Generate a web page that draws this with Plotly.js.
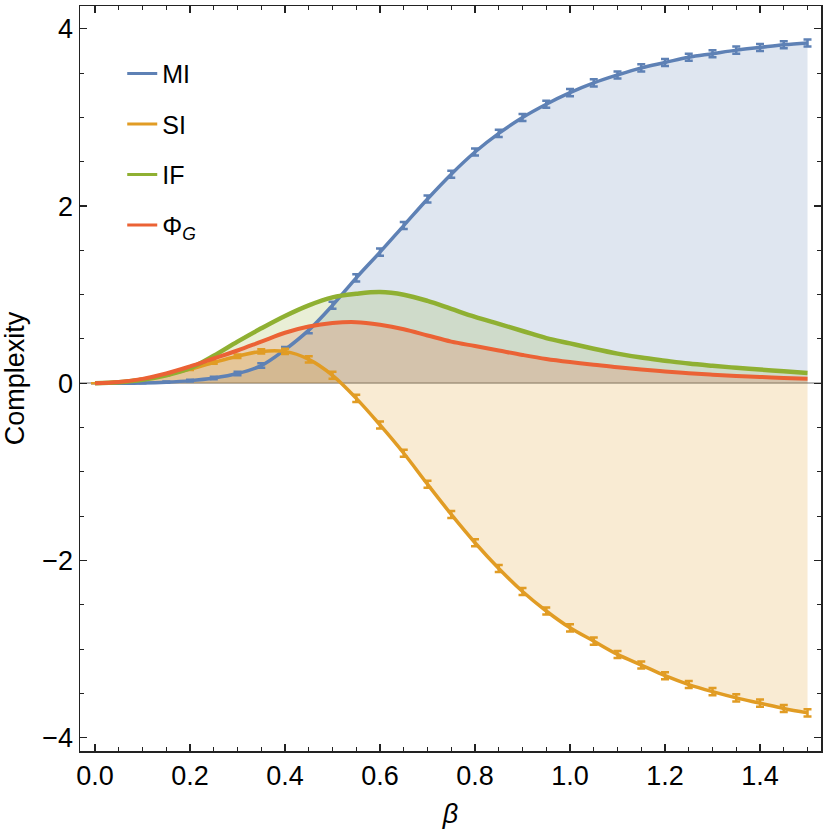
<!DOCTYPE html>
<html>
<head>
<meta charset="utf-8">
<script src="https://cdn.plot.ly/plotly-3.0.1.min.js"></script>
<style>html,body{margin:0;padding:0;background:#fff}</style>
</head>
<body>
<div id="chart" style="width:830px;height:833px"></div>
<script>
// beta grid and values
const beta = [0, 0.05, 0.1, 0.15, 0.2, 0.25, 0.3, 0.35, 0.4, 0.45, 0.5,
  0.55, 0.6, 0.65, 0.7, 0.75, 0.8, 0.85, 0.9, 0.95, 1.0,
  1.05, 1.1, 1.15, 1.2, 1.25, 1.3, 1.35, 1.4, 1.45, 1.5];

const mi = [0, 0.001, 0.004, 0.013, 0.03, 0.06, 0.11, 0.2, 0.38, 0.6, 0.88,
  1.19, 1.48, 1.78, 2.08, 2.36, 2.61, 2.82, 3.0, 3.15, 3.28,
  3.39, 3.48, 3.56, 3.62, 3.68, 3.72, 3.76, 3.79, 3.82, 3.84];
const miErr = [0, 0.002, 0.004, 0.006, 0.01, 0.015, 0.02, 0.025, 0.03, 0.035, 0.04,
  0.04, 0.04, 0.04, 0.04, 0.04, 0.04, 0.04, 0.04, 0.04, 0.04,
  0.04, 0.04, 0.04, 0.04, 0.04, 0.04, 0.04, 0.04, 0.04, 0.04];

const si = [0, 0.012, 0.045, 0.095, 0.16, 0.235, 0.305, 0.36, 0.36, 0.27, 0.09,
  -0.17, -0.47, -0.79, -1.14, -1.48, -1.8, -2.09, -2.35, -2.57, -2.76,
  -2.91, -3.06, -3.18, -3.3, -3.4, -3.48, -3.55, -3.61, -3.67, -3.72];
const siErr = [0, 0.002, 0.004, 0.006, 0.01, 0.015, 0.02, 0.025, 0.03, 0.035, 0.04,
  0.04, 0.04, 0.04, 0.04, 0.04, 0.04, 0.04, 0.04, 0.04, 0.04,
  0.04, 0.04, 0.04, 0.04, 0.04, 0.04, 0.04, 0.04, 0.04, 0.04];

const inf = [0, 0.012, 0.04, 0.09, 0.17, 0.31, 0.47, 0.62, 0.76, 0.88, 0.97,
  1.01, 1.03, 1.0, 0.93, 0.84, 0.75, 0.67, 0.59, 0.51, 0.45,
  0.39, 0.335, 0.29, 0.255, 0.222, 0.197, 0.175, 0.155, 0.135, 0.115];

const phi = [0, 0.015, 0.05, 0.11, 0.19, 0.28, 0.37, 0.47, 0.57, 0.64, 0.68,
  0.69, 0.66, 0.61, 0.54, 0.47, 0.42, 0.37, 0.32, 0.275, 0.24,
  0.21, 0.18, 0.155, 0.133, 0.113, 0.097, 0.083, 0.072, 0.061, 0.05];

const names = ['MI', 'SI', 'IF', '\u03a6<sub><i>G</i></sub>'];
const colors = ['#5e81b5', '#e19c24', '#8fb032', '#eb6235'];
const fills = ['rgba(94,129,181,0.2)', 'rgba(225,156,36,0.2)',
  'rgba(143,176,50,0.2)', 'rgba(235,98,53,0.2)'];
const series = [mi, si, inf, phi];
const errs = [miErr, siErr, null, null];
const widths = [3.5, 3.5, 4.5, 4];

const font = 'Liberation Sans, Arial, sans-serif';
let traces = [];

// filled areas first so every line sits on top
series.forEach((ys, i) => {
  traces.push({
    x: beta, y: ys, type: 'scatter', mode: 'lines',
    line: {width: 0, shape: 'spline', color: colors[i]},
    fill: 'tozeroy', fillcolor: fills[i],
    showlegend: false, hoverinfo: 'skip'
  });
});

series.forEach((ys, i) => {
  let t = {
    x: beta, y: ys, type: 'scatter', mode: 'lines',
    line: {width: widths[i], shape: 'spline', color: colors[i]},
    showlegend: false
  };
  if (errs[i]) {
    t.error_y = {type: 'data', array: errs[i], visible: true,
      color: colors[i], thickness: 2.5, width: 4};
  }
  traces.push(t);
});

// legend-only entries
series.forEach((ys, i) => {
  traces.push({
    x: [null], y: [null], type: 'scatter', mode: 'lines',
    name: names[i], legendgroup: 'g' + i,
    line: {width: 3, color: colors[i]}
  });
});

const layout = {
  width: 830, height: 833,
  margin: {l: 80, r: 9, t: 6, b: 82},
  paper_bgcolor: '#fff', plot_bgcolor: '#fff',
  font: {family: font, size: 27, color: '#000'},
  showlegend: true,
  legend: {
    x: 0.057, y: 0.94, xanchor: 'left', yanchor: 'top',
    bgcolor: 'rgba(0,0,0,0)', font: {family: font, size: 25, color: '#000'},
    tracegroupgap: 15, itemwidth: 30
  },
  xaxis: {
    range: [-0.0316, 1.5284],
    tickvals: [0, 0.2, 0.4, 0.6, 0.8, 1.0, 1.2, 1.4],
    ticktext: ['0.0', '0.2', '0.4', '0.6', '0.8', '1.0', '1.2', '1.4'],
    ticks: 'inside', ticklen: 7, tickwidth: 1.2, tickcolor: '#222',
    minor: {dtick: 0.05, tick0: 0, ticks: 'inside', ticklen: 4, tickwidth: 1, tickcolor: '#222'},
    showline: true, linecolor: '#222', linewidth: 1.5, mirror: 'ticks',
    showgrid: false, zeroline: false,
    title: {text: '<i>\u03b2</i>', font: {family: font, size: 27}, standoff: 14},
    tickfont: {family: font, size: 27}
  },
  yaxis: {
    range: [-4.15, 4.258],
    tickvals: [-4, -2, 0, 2, 4],
    ticktext: ['\u22124', '\u22122', '0', '2', '4'],
    ticks: 'inside', ticklen: 7, tickwidth: 1.2, tickcolor: '#222',
    minor: {dtick: 0.5, tick0: 0, ticks: 'inside', ticklen: 4, tickwidth: 1, tickcolor: '#222'},
    showline: true, linecolor: '#222', linewidth: 1.5, mirror: 'ticks',
    showgrid: false,
    zeroline: true, zerolinecolor: '#b8b8b8', zerolinewidth: 2,
    title: {text: 'Complexity', font: {family: font, size: 27}, standoff: 10},
    tickfont: {family: font, size: 27}
  }
};

Plotly.newPlot('chart', traces, layout, {displayModeBar: false, staticPlot: true});
</script>
</body>
</html>
